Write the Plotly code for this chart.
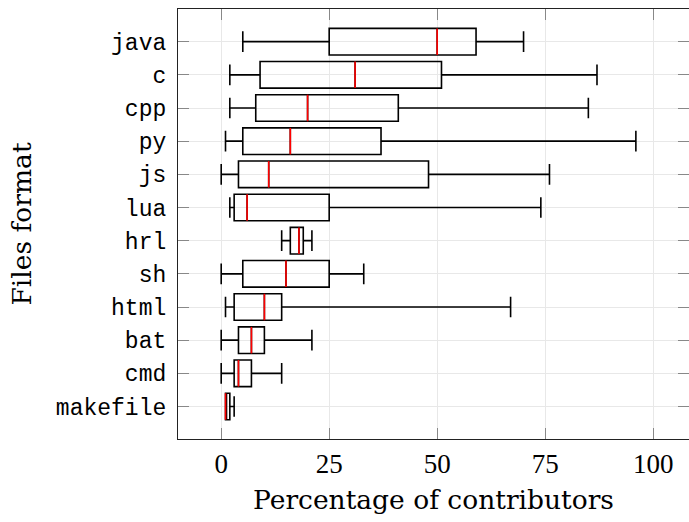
import plotly.graph_objects as go

# Data (top to bottom as in the chart)
formats = ["java", "c", "cpp", "py", "js", "lua", "hrl", "sh", "html", "bat", "cmd", "makefile"]
lower_whisker = [5, 2, 2, 1, 0, 2, 14, 0, 1, 0, 0, 1]
q1_values = [25, 9, 8, 5, 4, 3, 16, 5, 3, 4, 3, 1]
median_values = [50, 31, 20, 16, 11, 6, 18, 15, 10, 7, 4, 1]
q3_values = [59, 51, 41, 37, 48, 25, 19, 25, 14, 10, 7, 2]
upper_whisker = [70, 87, 85, 96, 76, 74, 21, 33, 67, 21, 14, 3]
x_ticks = [0, 25, 50, 75, 100]

n = len(formats)
positions = [n - 1 - i for i in range(n)]  # java at top
BOX_W = 0.8

fig = go.Figure()
fig.add_trace(go.Box(
    orientation="h",
    y=positions,
    q1=q1_values,
    median=median_values,
    q3=q3_values,
    lowerfence=lower_whisker,
    upperfence=upper_whisker,
    width=BOX_W,
    whiskerwidth=0.78,
    fillcolor="rgba(255,255,255,0)",
    line=dict(color="black", width=1.6),
    boxpoints=False,
    showlegend=False,
    hoverinfo="skip",
))

# red median lines
mx, my = [], []
for p, m in zip(positions, median_values):
    mx += [m, m, None]
    my += [p - BOX_W / 2, p + BOX_W / 2, None]
fig.add_trace(go.Scatter(
    x=mx, y=my, mode="lines",
    line=dict(color="red", width=1.6),
    showlegend=False, hoverinfo="skip",
))

fig.update_layout(
    width=689, height=522,
    margin=dict(l=178, r=0, t=9, b=83),
    plot_bgcolor="white", paper_bgcolor="white",
    showlegend=False,
)
fig.update_xaxes(
    range=[-10, 108.3],
    tickvals=x_ticks,
    ticktext=[str(v) for v in x_ticks],
    tickfont=dict(family="Liberation Serif", size=27, color="black"),
    ticks="inside", ticklen=11, tickwidth=1.2, tickcolor="#888888",
    showline=True, linecolor="#222222", linewidth=1.3, mirror="ticks",
    showgrid=True, gridcolor="#e8e8e8", gridwidth=1,
    zeroline=False,
    title=dict(text="Percentage of contributors",
               font=dict(family="DejaVu Serif", size=26.5, color="black"),
               standoff=12),
)
fig.update_yaxes(
    range=[-0.98, 11.985],
    tickvals=positions,
    ticktext=formats,
    tickfont=dict(family="Liberation Mono", size=23, color="black"),
    ticks="inside", ticklen=11, tickwidth=1.2, tickcolor="#888888",
    ticklabelstandoff=6,
    showline=True, linecolor="#222222", linewidth=1.3, mirror="ticks",
    showgrid=True, gridcolor="#e8e8e8", gridwidth=1,
    zeroline=False,
    title=dict(text="Files format",
               font=dict(family="DejaVu Serif", size=26.5, color="black"),
               standoff=16),
)

fig.write_html("out.html")
